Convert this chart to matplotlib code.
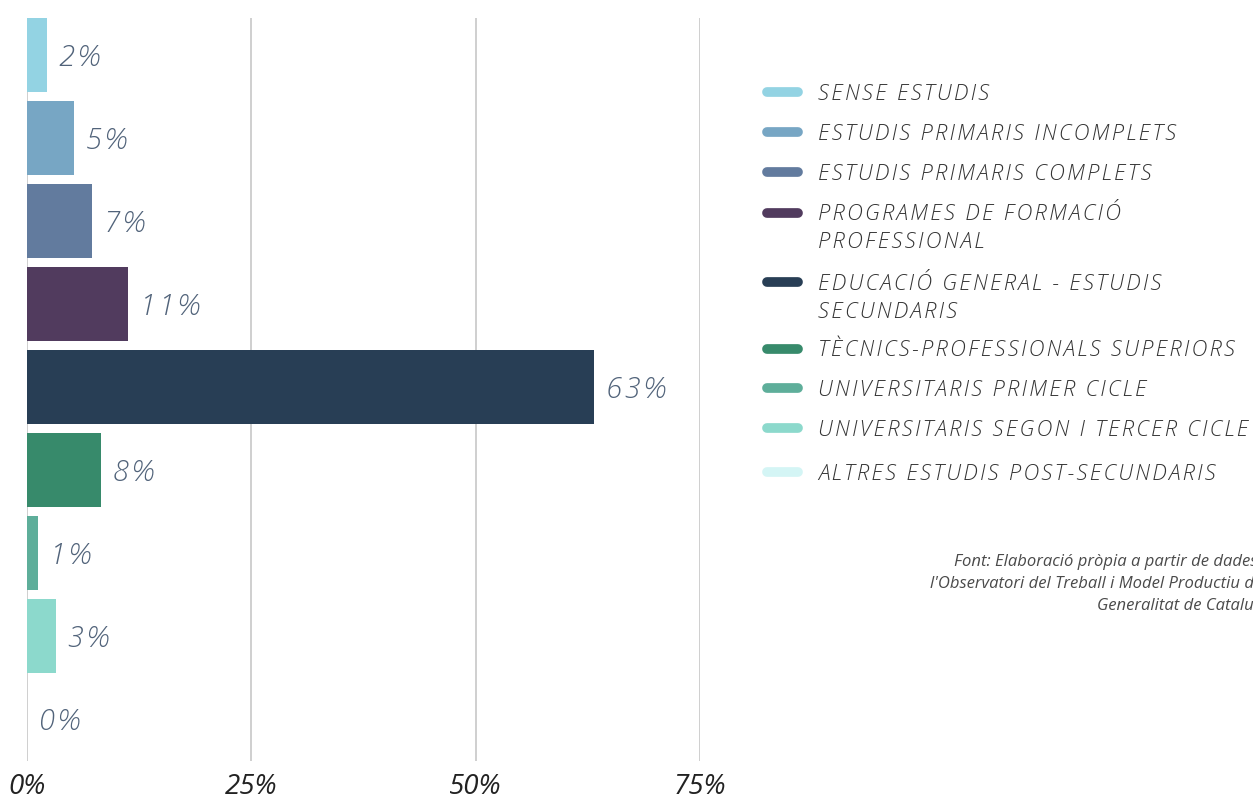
import matplotlib.pyplot as plt
from matplotlib.lines import Line2D

# data
categories = [
    "SENSE ESTUDIS",
    "ESTUDIS PRIMARIS INCOMPLETS",
    "ESTUDIS PRIMARIS COMPLETS",
    "PROGRAMES DE FORMACIÓ\nPROFESSIONAL",
    "EDUCACIÓ GENERAL - ESTUDIS\nSECUNDARIS",
    "TÈCNICS-PROFESSIONALS SUPERIORS",
    "UNIVERSITARIS PRIMER CICLE",
    "UNIVERSITARIS SEGON I TERCER CICLE",
    "ALTRES ESTUDIS POST-SECUNDARIS",
]
values = [2.2, 5.2, 7.2, 11.3, 63.2, 8.2, 1.2, 3.2, 0.0]
colors = ["#93d3e3", "#77a6c4", "#627b9e", "#513b5e", "#283e55",
          "#378a6b", "#5eae9a", "#8cd9cc", "#d4f5f5"]
ticks = [0, 25, 50, 75]
tick_labels = ["0%", "25%", "50%", "75%"]
source = ("Font: Elaboració pròpia a partir de dades de\n"
          "l'Observatori del Treball i Model Productiu de la\n"
          "Generalitat de Catalunya")

FONT = ["Open Sans", "DejaVu Sans"]
SP = "\u200a"  # hair space, poor man's letter spacing


def spaced(s):
    return SP.join(s)


W, H = 1253, 801
fig = plt.figure(figsize=(W / 100, H / 100), dpi=100)
ax = fig.add_axes([27 / W, (H - 760.5) / H, 673 / W, (760.5 - 18) / H])

y = list(range(len(values)))
ax.barh(y, values, height=0.89, color=colors, zorder=2)
ax.set_ylim(8.5, -0.45)
ax.set_xlim(0, 75)

for yi, v in zip(y, values):
    ax.annotate(spaced(f"{round(v)}%"), (v, yi), xytext=(12, -3),
                textcoords="offset pixels", va="center", ha="left",
                fontsize=21, style="italic", fontweight="light",
                color="#51637a", family=FONT, annotation_clip=False)

ax.set_xticks(ticks)
ax.set_xticklabels(tick_labels, fontsize=20, style="italic",
                   color="#222222", family=FONT)
ax.set_yticks([])
ax.tick_params(axis="x", length=0, pad=9)
ax.grid(axis="x", color="#cccccc", linewidth=1.3, zorder=0)
ax.set_axisbelow(True)
for s in ax.spines.values():
    s.set_visible(False)

# legend drawn by hand so the marker sits on the first line
leg_y = [92, 132, 172, 213, 282, 349, 388, 428, 472]
for cat, col, ly in zip(categories, colors, leg_y):
    yf = (H - ly) / H
    fig.add_artist(Line2D([767 / W, 798 / W], [yf, yf], color=col,
                          linewidth=7, solid_capstyle="round"))
    for k, line in enumerate(cat.split("\n")):
        fig.text(818 / W, (H - ly - 7.5 - 28 * k) / H, spaced(line),
                 ha="left", va="baseline", fontsize=15.8, style="italic",
                 fontweight="light", color="#333333", family=FONT)

fig.text(1280 / W, (H - 554) / H, source, ha="right", va="top",
         multialignment="right", fontsize=12, style="italic",
         color="#4a4a4a", family=FONT, linespacing=1.5)

fig.savefig("out.png", dpi=100)
